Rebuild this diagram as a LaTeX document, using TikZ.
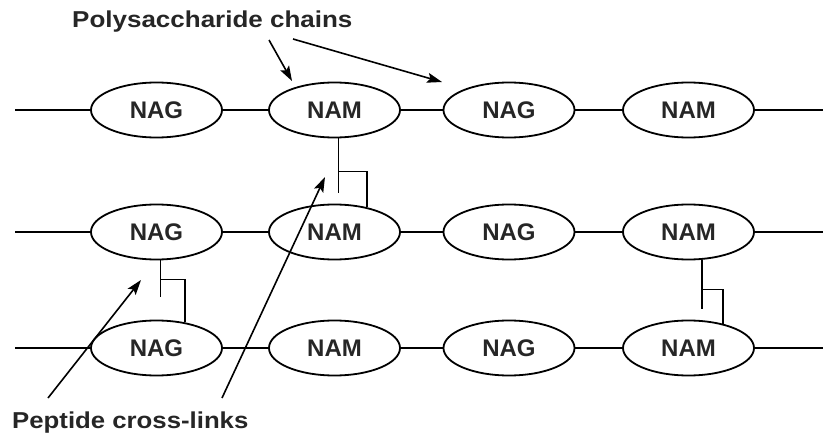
\documentclass[tikz,border=0pt]{standalone}
\usepackage{fontspec}
\setmainfont{Liberation Sans}
\usetikzlibrary{shapes.geometric,arrows.meta,calc}
\begin{document}
\begin{tikzpicture}[x=1pt,y=-1pt,
  sugar/.style={draw,ellipse,line width=1.8pt,minimum width=131pt,minimum height=55pt,inner sep=0pt,
    font=\fontsize{24}{24}\selectfont\bfseries,text=black!85},
  chain/.style={line width=2pt},
  link/.style={line width=1.8pt},
  pointer/.style={line width=1.6pt,-{Stealth[length=15pt,width=10pt,inset=3pt]}},
  lbl/.style={font=\fontsize{23}{23}\selectfont\bfseries,inner sep=0pt,text=black!85}]
\useasboundingbox (0,0) rectangle (823,434);
\fill[white] (0,0) rectangle (823,434);
% row 1
\node[sugar] (n11) at (156.5,110) {NAG};
\node[sugar] (n12) at (334.5,110) {NAM};
\node[sugar] (n13) at (509,110) {NAG};
\node[sugar] (n14) at (688.5,110) {NAM};
% row 2
\node[sugar] (n21) at (156.5,232) {NAG};
\node[sugar] (n22) at (334.5,232) {NAM};
\node[sugar] (n23) at (509,232) {NAG};
\node[sugar] (n24) at (688.5,232) {NAM};
% row 3
\node[sugar] (n31) at (156.5,348) {NAG};
\node[sugar] (n32) at (334.5,348) {NAM};
\node[sugar] (n33) at (509,348) {NAG};
\node[sugar] (n34) at (688.5,348) {NAM};
% chain ends
\coordinate (s1) at (15,110); \coordinate (e1) at (823,110);
\coordinate (s2) at (15,232); \coordinate (e2) at (823,232);
\coordinate (s3) at (15,348); \coordinate (e3) at (823,348);
\draw[chain] (s1) -- (n11) -- (n12) -- (n13) -- (n14) -- (e1);
\draw[chain] (s2) -- (n21) -- (n22) -- (n23) -- (n24) -- (e2);
\draw[chain] (s3) -- (n31) -- (n32) -- (n33) -- (n34) -- (e3);
% peptide cross-links
\draw[link] ([xshift=4pt]n12.south) -- ++(0,55);
\draw[link] ([xshift=4pt]n12.south) ++(0,33) -| (n22.37);
\draw[link] ([xshift=4pt]n21.south) -- ++(0,37);
\draw[link] ([xshift=4pt]n21.south) ++(0,19) -| (n31.42);
\draw[link] ([xshift=13.5pt]n24.south) -- ++(0,49);
\draw[link] ([xshift=13.5pt]n24.south) ++(0,29) -| (n34.35);
% labels
\node[lbl,anchor=base west] (poly) at (72,27) {\scalebox{1.13}[1]{Polysaccharide chains}};
\node[lbl,anchor=base west] (pept) at (12,428) {\scalebox{1.12}[1]{Peptide cross-links}};
% pointer arrows
\coordinate (pa1) at (269,40); \coordinate (pa1t) at (292,81);
\coordinate (pa2) at (293,39); \coordinate (pa2t) at (442,82);
\coordinate (pb1) at (48,398); \coordinate (pb1t) at (141,280);
\coordinate (pb2) at (222,398); \coordinate (pb2t) at (325,177);
\draw[pointer] (pa1) -- (pa1t);
\draw[pointer] (pa2) -- (pa2t);
\draw[pointer] (pb1) -- (pb1t);
\draw[pointer] (pb2) -- (pb2t);
\end{tikzpicture}
\end{document}
